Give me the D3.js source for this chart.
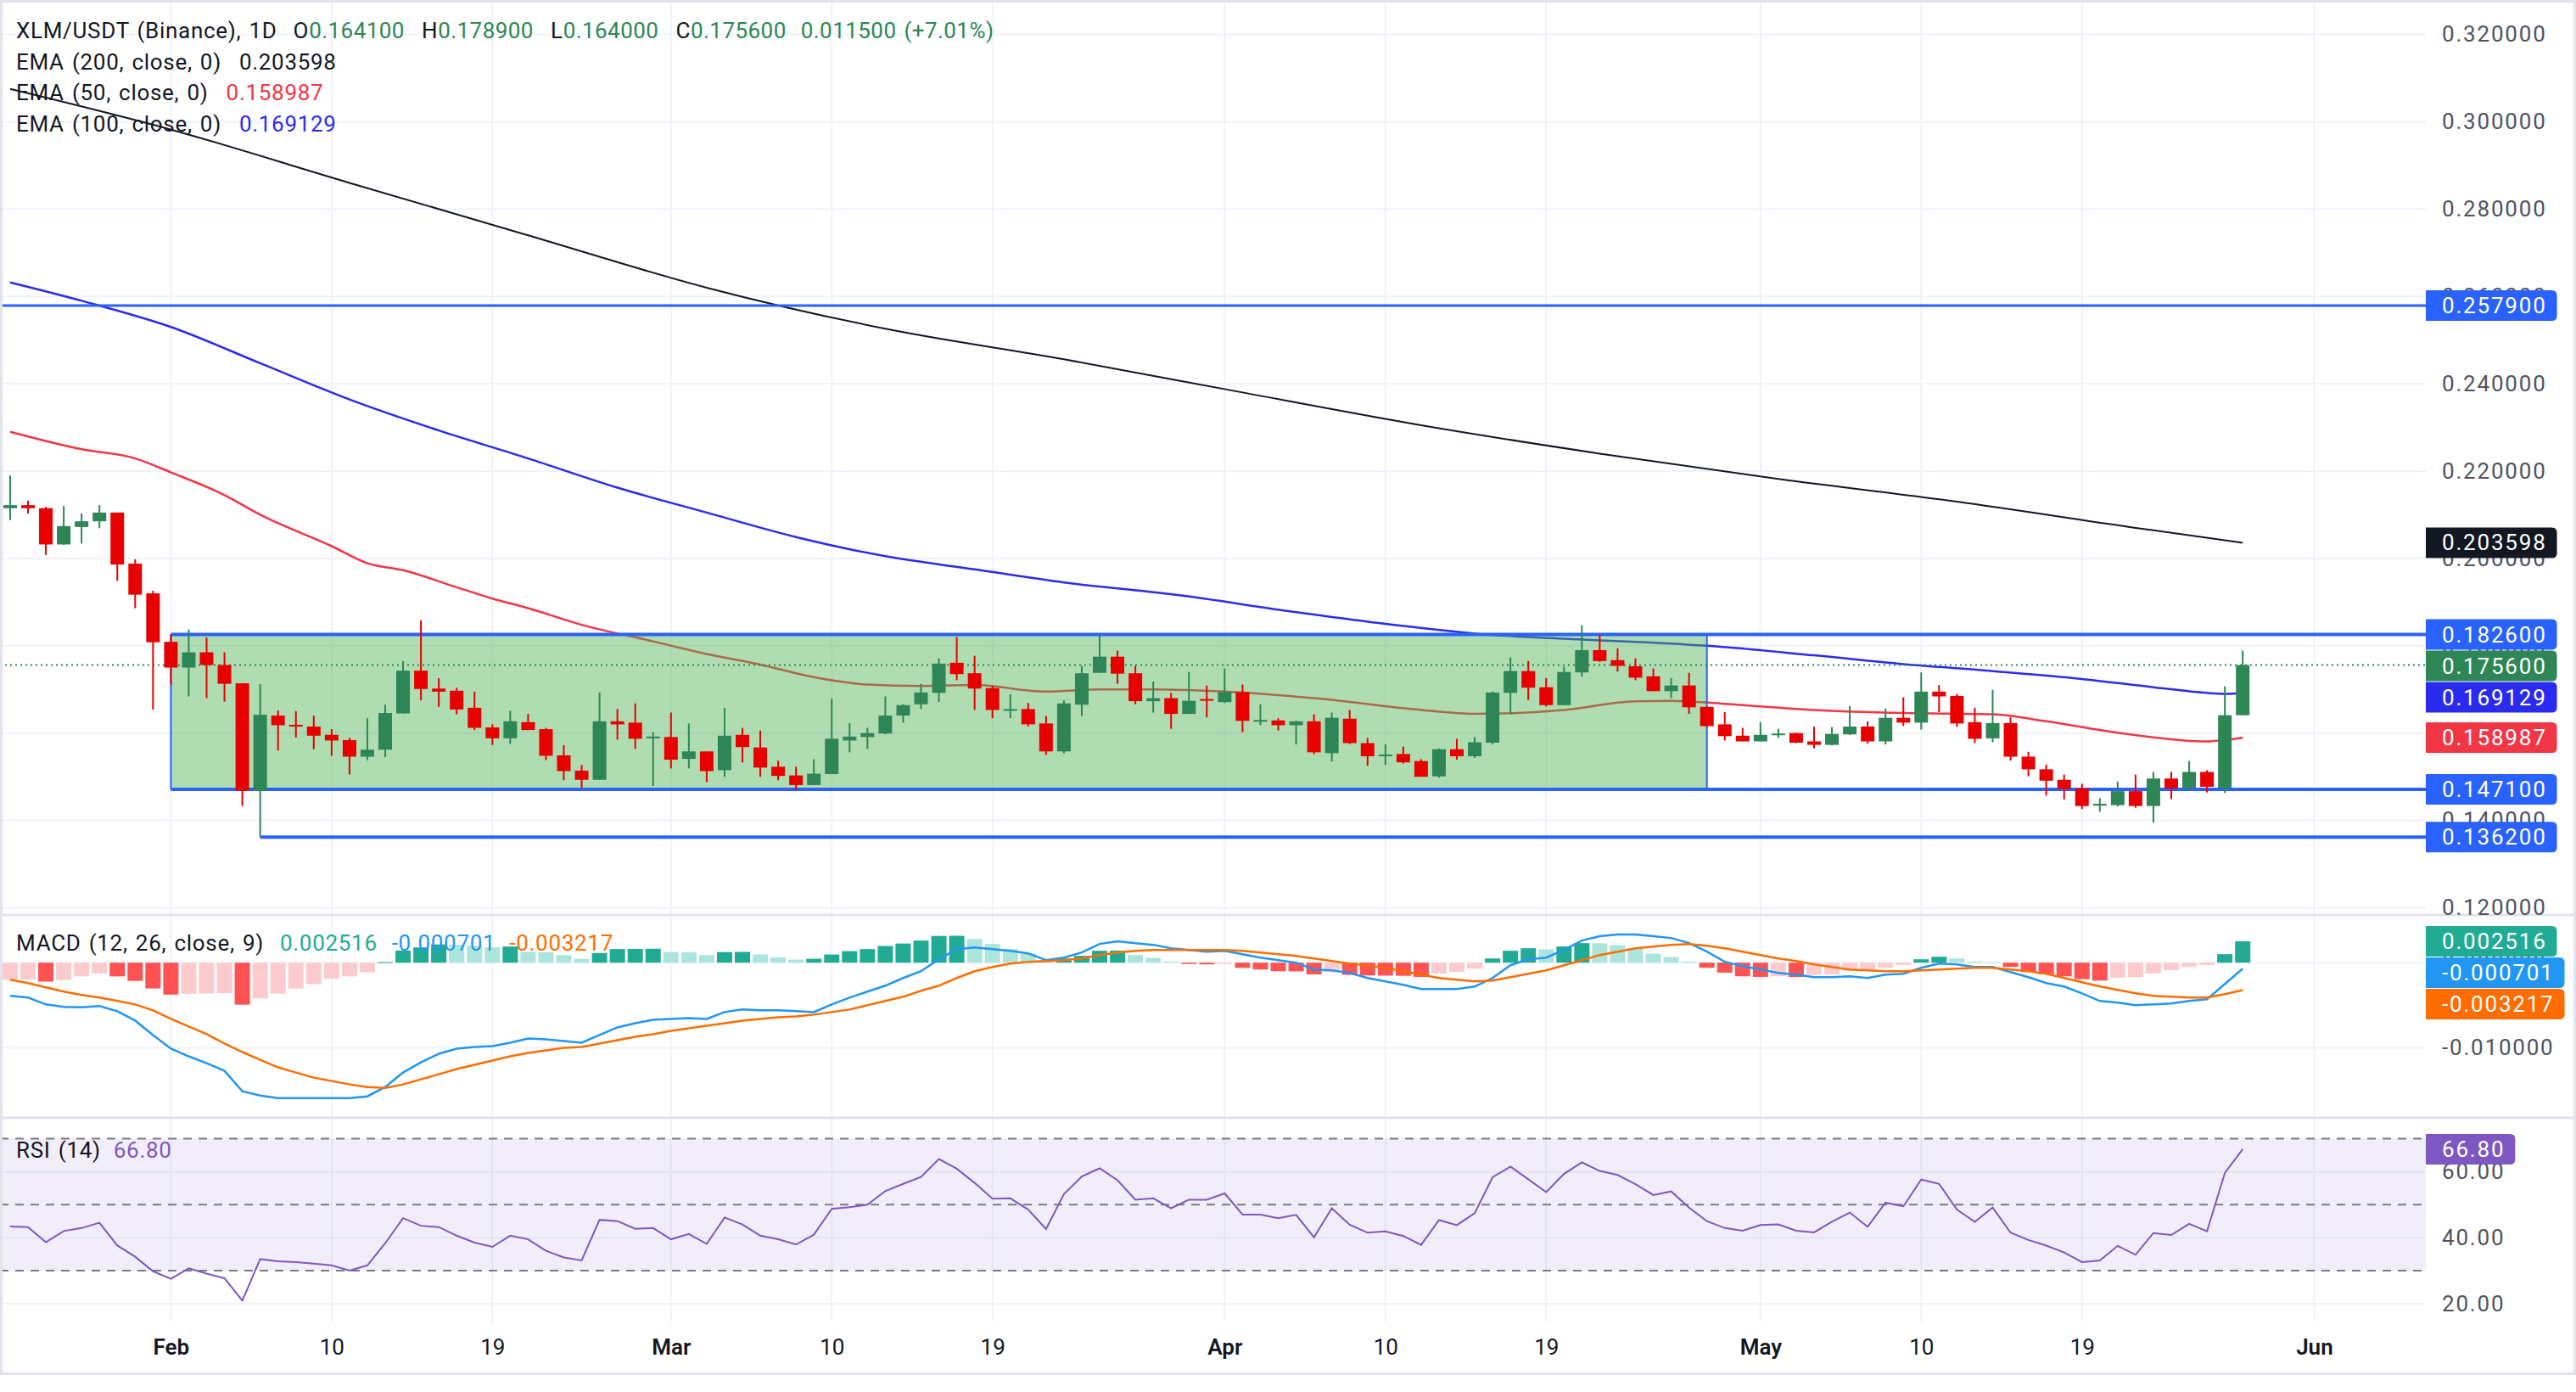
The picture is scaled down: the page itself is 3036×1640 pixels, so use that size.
<!DOCTYPE html>
<html>
<head>
<meta charset="utf-8">
<script src="https://cdn.jsdelivr.net/npm/d3@7/dist/d3.min.js"></script>
<style>
html,body{margin:0;padding:0;background:#ffffff;overflow:hidden;}
svg{display:block;font-family:Roboto,"Liberation Sans",Arial,sans-serif;}
</style>
</head>
<body>
<svg id="chart" width="3036" height="1640"></svg>
<script>
// ================= DATA =================
const symbolTitle = "XLM/USDT (Binance), 1D";
const firstCandleOffset = -9; // first candle is 9 days before Feb 1
const opens = [0.2115,0.2122,0.2115,0.2032,0.2072,0.2085,0.2105,0.1988,0.1920,
0.1809,0.1750,0.1785,0.1756,0.1714,0.1468,0.1640,0.1619,0.1615,0.1596,
0.1584,0.1546,0.1562,0.1645,0.1743,0.1702,0.1697,0.1658,0.1613,0.1588,
0.1625,0.1609,0.1549,0.1514,0.1493,0.1627,0.1624,0.1589,0.1591,0.1541,
0.1558,0.1515,0.1596,0.1567,0.1523,0.1503,0.1481,0.1506,0.1583,0.1591,
0.1599,0.1640,0.1666,0.1692,0.1761,0.1737,0.1703,0.1654,0.1655,0.1622,
0.1558,0.1665,0.1738,0.1775,0.1737,0.1673,0.1680,0.1644,0.1678,0.1671,
0.1694,0.1628,0.1629,0.1618,0.1627,0.1554,0.1633,0.1577,0.1547,0.1552,
0.1536,0.1501,0.1563,0.1547,0.1578,0.1692,0.1742,0.1705,0.1664,0.1739,
0.1790,0.1767,0.1753,0.1730,0.1696,0.1709,0.1660,0.1620,0.1594,0.1581,
0.1597,0.1600,0.1581,0.1573,0.1597,0.1615,0.1581,0.1635,0.1624,0.1695,
0.1685,0.1625,0.1588,0.1623,0.1546,0.1517,0.1493,0.1473,0.1435,0.1435,
0.1467,0.1433,0.1496,0.1474,0.1511,0.1474,0.1641];
const highs = [0.2190,0.2132,0.2118,0.2120,0.2103,0.2122,0.2105,0.1998,0.1926,
0.1826,0.1837,0.1819,0.1785,0.1714,0.1712,0.1652,0.1650,0.1640,0.1609,
0.1589,0.1634,0.1665,0.1765,0.1858,0.1726,0.1704,0.1695,0.1620,0.1651,
0.1644,0.1612,0.1572,0.1527,0.1693,0.1655,0.1668,0.1602,0.1647,0.1622,
0.1558,0.1658,0.1612,0.1606,0.1537,0.1523,0.1540,0.1679,0.1623,0.1612,
0.1684,0.1666,0.1713,0.1771,0.1820,0.1777,0.1708,0.1689,0.1669,0.1639,
0.1675,0.1754,0.1823,0.1789,0.1754,0.1718,0.1692,0.1740,0.1709,0.1748,
0.1711,0.1666,0.1634,0.1628,0.1643,0.1647,0.1653,0.1589,0.1574,0.1569,
0.1540,0.1565,0.1587,0.1591,0.1695,0.1773,0.1765,0.1726,0.1752,0.1847,
0.1825,0.1794,0.1771,0.1748,0.1726,0.1738,0.1661,0.1648,0.1612,0.1625,
0.1610,0.1601,0.1615,0.1614,0.1662,0.1627,0.1656,0.1682,0.1739,0.1710,
0.1690,0.1658,0.1699,0.1636,0.1557,0.1528,0.1505,0.1484,0.1451,0.1489,
0.1505,0.1511,0.1511,0.1536,0.1515,0.1707,0.1789];
const lows = [0.2088,0.2103,0.2008,0.2031,0.2034,0.2069,0.1949,0.1886,0.1654,
0.1711,0.1684,0.1680,0.1672,0.1433,0.1362,0.1560,0.1590,0.1563,0.1548,
0.1505,0.1538,0.1545,0.1645,0.1675,0.1660,0.1643,0.1607,0.1573,0.1575,
0.1607,0.1538,0.1492,0.1474,0.1493,0.1585,0.1564,0.1479,0.1519,0.1519,
0.1488,0.1500,0.1533,0.1500,0.1492,0.1470,0.1481,0.1506,0.1556,0.1564,
0.1597,0.1624,0.1655,0.1671,0.1721,0.1653,0.1634,0.1634,0.1615,0.1550,
0.1554,0.1639,0.1738,0.1713,0.1666,0.1647,0.1610,0.1644,0.1636,0.1669,
0.1602,0.1618,0.1606,0.1574,0.1552,0.1535,0.1575,0.1525,0.1527,0.1530,
0.1500,0.1498,0.1539,0.1543,0.1574,0.1644,0.1676,0.1661,0.1664,0.1729,
0.1763,0.1741,0.1721,0.1696,0.1680,0.1644,0.1614,0.1583,0.1581,0.1581,
0.1589,0.1577,0.1565,0.1572,0.1596,0.1576,0.1574,0.1616,0.1608,0.1648,
0.1614,0.1577,0.1579,0.1537,0.1501,0.1457,0.1448,0.1426,0.1420,0.1432,
0.1429,0.1395,0.1449,0.1467,0.1464,0.1463,0.1640];
const closes = [0.2122,0.2115,0.2032,0.2074,0.2085,0.2105,0.1986,0.1917,0.1808,
0.1750,0.1785,0.1756,0.1713,0.1468,0.1642,0.1618,0.1615,0.1594,0.1583,
0.1546,0.1562,0.1646,0.1743,0.1701,0.1695,0.1654,0.1612,0.1588,0.1627,
0.1607,0.1548,0.1513,0.1493,0.1627,0.1620,0.1587,0.1592,0.1539,0.1558,
0.1513,0.1594,0.1568,0.1521,0.1502,0.1481,0.1507,0.1587,0.1592,0.1600,
0.1640,0.1664,0.1693,0.1759,0.1735,0.1702,0.1653,0.1655,0.1620,0.1558,
0.1668,0.1737,0.1775,0.1736,0.1673,0.1680,0.1644,0.1674,0.1674,0.1694,
0.1628,0.1630,0.1618,0.1627,0.1556,0.1635,0.1577,0.1547,0.1551,0.1533,
0.1500,0.1563,0.1547,0.1579,0.1693,0.1742,0.1704,0.1664,0.1740,0.1790,
0.1765,0.1754,0.1727,0.1696,0.1709,0.1659,0.1616,0.1593,0.1581,0.1596,
0.1599,0.1578,0.1573,0.1598,0.1615,0.1581,0.1635,0.1624,0.1695,0.1684,
0.1622,0.1587,0.1623,0.1546,0.1517,0.1491,0.1472,0.1433,0.1438,0.1467,
0.1433,0.1496,0.1473,0.1511,0.1477,0.1641,0.1756];

// EMA readings (day offset from Feb 1, value)
const ema200Days = [-9,0,10,20,30,40,50,60,70,80,90,100,110,116];
const ema200Vals = [0.3075,0.2982,0.2860,0.2740,0.2620,0.2526,0.2456,0.2380,0.2305,0.2240,0.2182,0.2130,0.2070,0.203598];
const ema100Days = [-9,-5,0,5,10,15,20,25,30,35,40,45,50,56,63,68,73,78,82,86,92,97,102,107,111,114,115,116];
const ema100Vals = [0.2632,0.2590,0.2530,0.2447,0.2364,0.2293,0.2229,0.2162,0.2105,0.2049,0.2005,0.1975,0.1945,0.1918,0.1877,0.1850,0.1828,0.1816,0.1809,0.1800,0.1778,0.1758,0.1742,0.1724,0.1705,0.1692,0.1690,0.169129];
const ema50Days = [-9,-5,-2,0,3,5,9,11,13,16,18,20,23,27,30,33,36,39,42,45,49,52,55,59,64,70,73,78,82,84,87,92,97,102,105,109,114,115,116];
const ema50Vals = [0.2290,0.2250,0.2229,0.2197,0.2145,0.2100,0.2028,0.1989,0.1973,0.1934,0.1908,0.1886,0.1848,0.1810,0.1781,0.1757,0.1728,0.1711,0.1708,0.1710,0.1695,0.1700,0.1700,0.1695,0.1680,0.1653,0.1644,0.1653,0.1673,0.1674,0.1667,0.1653,0.1646,0.1643,0.1627,0.1601,0.1581,0.1584,0.158987];

// MACD (12,26,9), one value per candle
const macdVals = [-0.0039,-0.0041,-0.0049,-0.0052,-0.00525,-0.0051,-0.0057,-0.0068,-0.0085,
-0.0101,-0.0110,-0.0118,-0.0127,-0.0151,-0.0156,-0.0159,-0.0159,-0.0159,-0.0159,
-0.0159,-0.0157,-0.0146,-0.0129,-0.0117,-0.0107,-0.0101,-0.0099,-0.0098,-0.0094,
-0.0089,-0.0090,-0.0092,-0.0094,-0.0085,-0.0076,-0.0071,-0.0067,-0.0066,-0.0065,
-0.0066,-0.0058,-0.0055,-0.0056,-0.0056,-0.0057,-0.0058,-0.0049,-0.0041,-0.0034,
-0.0027,-0.0018,-0.0010,0.0004,0.0016,0.0018,0.0016,0.0014,0.0011,0.0003,
0.0006,0.0012,0.0022,0.0025,0.0023,0.0021,0.0017,0.0015,0.0013,0.0014,
0.0010,0.0006,0.0003,0.0000,-0.0008,-0.0009,-0.0012,-0.0018,-0.0022,-0.0026,
-0.0031,-0.0031,-0.0031,-0.0028,-0.0018,-0.0003,0.0004,0.0006,0.0015,0.0026,
0.0031,0.0033,0.0033,0.0031,0.0029,0.0023,0.0013,0.0001,-0.0004,-0.0008,
-0.0012,-0.0014,-0.0017,-0.0017,-0.0016,-0.0018,-0.0014,-0.0013,-0.0006,-0.0001,
-0.0002,-0.0005,-0.0005,-0.0011,-0.0017,-0.0024,-0.0028,-0.0036,-0.0045,-0.0047,
-0.0050,-0.0049,-0.0048,-0.0045,-0.0043,-0.0025,-0.000701];
const signalVals = [-0.0020,-0.0024,-0.0029,-0.0034,-0.0038,-0.0041,-0.0045,-0.0049,-0.0056,
-0.0066,-0.0075,-0.0084,-0.0095,-0.0105,-0.0114,-0.0123,-0.0129,-0.0135,-0.0139,
-0.0143,-0.0146,-0.0147,-0.0143,-0.0137,-0.0131,-0.0125,-0.0120,-0.0115,-0.0110,
-0.0106,-0.0103,-0.0100,-0.0099,-0.0095,-0.0091,-0.0087,-0.0084,-0.0080,-0.0077,
-0.0074,-0.0071,-0.0068,-0.0066,-0.0064,-0.0063,-0.0061,-0.0058,-0.0055,-0.0050,
-0.0045,-0.0040,-0.0033,-0.0027,-0.0018,-0.0010,-0.0005,-0.0001,0.0001,0.0002,
0.0003,0.0005,0.0009,0.0012,0.0014,0.0015,0.0015,0.0015,0.0015,0.0015,
0.0014,0.0012,0.0010,0.0008,0.0005,0.0002,-0.0001,-0.0003,-0.0006,-0.0010,
-0.0014,-0.0018,-0.0020,-0.0022,-0.0021,-0.0017,-0.0013,-0.0009,-0.0003,0.0003,
0.0009,0.0013,0.0017,0.0019,0.0021,0.0022,0.0020,0.0017,0.0013,0.0009,
0.0005,0.0002,-0.0002,-0.0005,-0.0008,-0.0009,-0.0010,-0.0010,-0.0009,-0.0008,
-0.0007,-0.0006,-0.0006,-0.0008,-0.0010,-0.0013,-0.0018,-0.0023,-0.0028,-0.0032,
-0.0036,-0.0039,-0.0040,-0.0041,-0.0041,-0.0037,-0.003217];
const histVals = [-0.0020,-0.00195,-0.00222,-0.00203,-0.00161,-0.00125,-0.00161,-0.00214,-0.00303,
-0.00375,-0.00366,-0.00362,-0.00358,-0.00493,-0.00421,-0.00364,-0.00303,-0.0025,-0.00189,
-0.00161,-0.00114,0.00007,0.00143,0.00179,0.00214,0.00212,0.00200,0.00180,0.00190,
0.00128,0.00124,0.00089,0.00046,0.00114,0.00160,0.00162,0.00164,0.00125,0.00122,
0.00089,0.00125,0.00127,0.00096,0.00064,0.00036,0.00046,0.00096,0.00136,0.00160,
0.00196,0.00225,0.00260,0.00314,0.00316,0.00278,0.00220,0.00160,0.00107,0.00030,
0.00050,0.00080,0.00140,0.00142,0.00090,0.00057,0.00013,-0.00015,-0.00020,-0.00015,
-0.00060,-0.00080,-0.00100,-0.00102,-0.00137,-0.00110,-0.00143,-0.00150,-0.00152,-0.00154,
-0.00167,-0.00127,-0.00110,-0.00070,0.00050,0.00140,0.00170,0.00157,0.00190,0.00230,
0.00228,0.00206,0.00167,0.00107,0.00067,0.00013,-0.00060,-0.00117,-0.00160,-0.00167,
-0.00160,-0.00168,-0.00143,-0.00137,-0.00093,-0.00077,-0.00060,-0.00027,0.00040,0.00070,
0.00050,0.00013,0.00010,-0.00050,-0.00110,-0.00137,-0.00160,-0.00193,-0.00210,-0.00177,
-0.00170,-0.00127,-0.00087,-0.00050,-0.00027,0.00100,0.002516];
const rsiVals = [43.4,43.2,38.6,42.0,42.9,44.5,37.6,34.2,29.8,
27.5,30.7,29.1,27.7,20.9,33.5,32.8,32.6,32.1,31.6,
30.0,31.6,38.3,45.9,43.6,43.2,40.6,38.5,37.2,40.6,
39.5,36.0,34.0,33.1,45.4,45.0,42.7,42.9,39.5,41.1,
38.1,46.1,44.0,40.6,39.5,37.9,40.9,48.7,49.2,50.0,
54.1,56.3,58.4,63.8,60.9,56.6,51.8,51.9,48.5,42.6,
53.2,58.5,61.0,57.4,51.5,51.9,48.9,51.5,51.5,53.4,
47.0,47.0,45.9,46.9,40.1,48.9,43.9,41.5,41.9,40.5,
37.8,45.3,43.8,47.4,58.3,61.5,57.7,53.8,59.3,62.8,
60.2,59.0,56.2,52.9,54.0,49.1,45.0,42.9,42.1,43.8,
44.0,42.1,41.6,44.8,47.6,43.3,50.6,49.5,57.6,56.3,
48.5,44.8,49.1,41.5,39.3,37.6,35.5,32.6,33.1,37.5,
34.8,41.4,40.8,44.2,41.9,59.6,66.8];

// drawn horizontal levels and range box
const levelValues = [0.2579, 0.1826, 0.1471, 0.1362];
const levelStartDays = [null, 0, 0, 5];
const rangeBoxDays = [0, 86];
const rangeBoxPrices = [0.1826, 0.1471];

// ticks
const priceTicks = [0.12,0.14,0.16,0.18,0.20,0.22,0.24,0.26,0.28,0.30,0.32];
const macdTicks = [-0.01, 0];
const rsiTicks = [20, 40, 60];
const rsiLevels = [70, 50, 30];
const timeTickDates = ["2023-02-01","2023-02-10","2023-02-19","2023-03-01","2023-03-10","2023-03-19","2023-04-01","2023-04-10","2023-04-19","2023-05-01","2023-05-10","2023-05-19","2023-06-01"];
const timeTickLabels = ["Feb","10","19","Mar","10","19","Apr","10","19","May","10","19","Jun"];
const monthLabels = ["Feb","Mar","Apr","May","Jun"];

// ================= CHART =================
const W = 3036, H = 1640, plotR = 2859;
const paneP = [0, 1078], paneM = [1078, 1317], paneR = [1317, 1557];
const DAY = 86400000;
const feb1 = Date.UTC(2023, 1, 1);
const dateAt = d => new Date(feb1 + d * DAY);
const parse = d3.utcParse("%Y-%m-%d");

const C = {
  up: "#2e8656", down: "#e60000", text: "#131722", axisText: "#50535e",
  grid: "#f0f3fa", sep: "#e0e3eb", level: "#2962ff",
  ema200: "#131722", ema50: "#f23645", ema100: "#2b2bef",
  macd: "#2196f3", signal: "#ff6d00", rsi: "#7e57c2",
  histUp: "#22ab94", histUpFade: "#ace5dc", histDn: "#ff5252", histDnFade: "#fccbcd"
};
const loc = d3.formatLocale({decimal: ".", thousands: ",", grouping: [3], currency: ["$", ""], minus: "-"});
const f6 = loc.format(".6f"), f2 = loc.format(".2f"), fp = loc.format("+.2f");

const x = d3.scaleUtc().domain([dateAt(0), dateAt(120)]).range([201.4, 2727.4]);
const yP = d3.scaleLinear().domain([0.12, 0.32]).range([1069.5, 40.5]);
const yM = d3.scaleLinear().domain([-0.01, 0]).range([1234.5, 1134.2]);
const yR = d3.scaleLinear().domain([30, 70]).range([1497, 1341.5]);

const candles = opens.map((o, i) => ({date: dateAt(firstCandleOffset + i), o, h: highs[i], l: lows[i], c: closes[i]}));

const svg = d3.select("#chart");
svg.append("rect").attr("width", W).attr("height", H).attr("fill", "#ffffff");
const defs = svg.append("defs");
function clip(id, x0, y0, x1, y1) {
  defs.append("clipPath").attr("id", id).append("rect")
    .attr("x", x0).attr("y", y0).attr("width", x1 - x0).attr("height", y1 - y0);
}
clip("cP", 0, paneP[0], plotR, paneP[1]);
clip("cM", 0, paneM[0], plotR, paneM[1]);
clip("cR", 0, paneR[0], plotR, paneR[1]);
clip("aP", plotR, paneP[0], W, paneP[1]);
clip("aM", plotR, paneM[0], W, paneM[1]);
clip("aR", plotR, paneR[0], W, paneR[1]);

// ---- grid ----
const grid = svg.append("g");
grid.selectAll("line.v").data(timeTickDates.map(parse)).join("line")
  .attr("x1", d => x(d)).attr("x2", d => x(d)).attr("y1", 0).attr("y2", paneR[1])
  .attr("stroke", C.grid).attr("stroke-width", 2);
const hGrid = [...priceTicks.map(v => yP(v)), ...macdTicks.map(v => yM(v)), ...rsiTicks.map(v => yR(v))];
grid.selectAll("line.h").data(hGrid).join("line")
  .attr("x1", 0).attr("x2", plotR).attr("y1", d => d).attr("y2", d => d)
  .attr("stroke", C.grid).attr("stroke-width", 2);

// ---- price pane ----
const gP = svg.append("g").attr("clip-path", "url(#cP)");
const emaLine = d3.line().curve(d3.curveMonotoneX);
function drawEma(days, vals, color, w) {
  gP.append("path").attr("d", emaLine(days.map((d, i) => [x(dateAt(d)), yP(vals[i])])))
    .attr("fill", "none").attr("stroke", color).attr("stroke-width", w);
}
drawEma(ema200Days, ema200Vals, C.ema200, 2);
drawEma(ema100Days, ema100Vals, C.ema100, 2.5);
drawEma(ema50Days, ema50Vals, C.ema50, 2.5);

// range box
const bx0 = x(dateAt(rangeBoxDays[0])), bx1 = x(dateAt(rangeBoxDays[1]));
gP.append("rect").attr("x", bx0).attr("y", yP(rangeBoxPrices[0]))
  .attr("width", bx1 - bx0).attr("height", yP(rangeBoxPrices[1]) - yP(rangeBoxPrices[0]))
  .attr("fill", "rgba(76,175,80,0.44)");
[bx0, bx1].forEach(bx => gP.append("line").attr("x1", bx).attr("x2", bx)
  .attr("y1", yP(rangeBoxPrices[0])).attr("y2", yP(rangeBoxPrices[1]))
  .attr("stroke", C.level).attr("stroke-width", 2));

// levels
gP.selectAll("line.lvl").data(levelValues).join("line")
  .attr("x1", (v, i) => levelStartDays[i] === null ? 0 : x(dateAt(levelStartDays[i])))
  .attr("x2", plotR).attr("y1", v => yP(v)).attr("y2", v => yP(v))
  .attr("stroke", C.level).attr("stroke-width", (v, i) => i === 0 ? 3 : 4);

// last price dotted line
const last = candles[candles.length - 1];
gP.append("line").attr("x1", 0).attr("x2", plotR).attr("y1", yP(last.c)).attr("y2", yP(last.c))
  .attr("stroke", C.up).attr("stroke-width", 2).attr("stroke-dasharray", "2,4");

// candles
const cg = gP.selectAll("g.candle").data(candles).join("g");
cg.append("line").attr("x1", d => x(d.date)).attr("x2", d => x(d.date))
  .attr("y1", d => yP(d.h)).attr("y2", d => yP(d.l))
  .attr("stroke", d => d.c >= d.o ? C.up : C.down).attr("stroke-width", 2);
cg.append("rect").attr("x", d => x(d.date) - 8).attr("width", 16)
  .attr("y", d => yP(Math.max(d.o, d.c)))
  .attr("height", d => Math.max(2, Math.abs(yP(d.o) - yP(d.c))))
  .attr("fill", d => d.c >= d.o ? C.up : C.down);

// ---- MACD pane ----
const gM = svg.append("g").attr("clip-path", "url(#cM)");
gM.selectAll("rect").data(histVals).join("rect")
  .attr("x", (v, i) => x(candles[i].date) - 9).attr("width", 18)
  .attr("y", v => Math.min(yM(v), yM(0)))
  .attr("height", v => Math.max(1, Math.abs(yM(v) - yM(0))))
  .attr("fill", (v, i) => {
    const p = i > 0 ? histVals[i - 1] : null;
    if (v >= 0) return (p !== null && v >= p) ? C.histUp : C.histUpFade;
    return (p !== null && v <= p) ? C.histDn : C.histDnFade;
  });
const seriesLine = d3.line();
gM.append("path").attr("d", seriesLine(macdVals.map((v, i) => [x(candles[i].date), yM(v)])))
  .attr("fill", "none").attr("stroke", C.macd).attr("stroke-width", 2.5);
gM.append("path").attr("d", seriesLine(signalVals.map((v, i) => [x(candles[i].date), yM(v)])))
  .attr("fill", "none").attr("stroke", C.signal).attr("stroke-width", 2.5);

// ---- RSI pane ----
const gR = svg.append("g").attr("clip-path", "url(#cR)");
gR.append("rect").attr("x", 0).attr("width", plotR).attr("y", yR(70)).attr("height", yR(30) - yR(70))
  .attr("fill", C.rsi).attr("fill-opacity", 0.1);
gR.selectAll("line.rl").data(rsiLevels).join("line")
  .attr("x1", 0).attr("x2", plotR).attr("y1", v => yR(v)).attr("y2", v => yR(v))
  .attr("stroke", "#787b86").attr("stroke-width", 2).attr("stroke-dasharray", "10,8");
gR.append("path").attr("d", seriesLine(rsiVals.map((v, i) => [x(candles[i].date), yR(v)])))
  .attr("fill", "none").attr("stroke", C.rsi).attr("stroke-width", 2);

// ---- separators ----
[paneP[1], paneM[1]].forEach(y => svg.append("line").attr("x1", 0).attr("x2", W)
  .attr("y1", y).attr("y2", y).attr("stroke", C.sep).attr("stroke-width", 3));

// ---- axes ----
function styleAxis(g) {
  g.select(".domain").remove();
  g.attr("font-family", "Roboto, 'Liberation Sans', sans-serif").attr("font-size", 26);
  g.selectAll("text").attr("fill", C.axisText).attr("letter-spacing", 1.8);
}
svg.append("g").attr("clip-path", "url(#aP)").append("g").attr("transform", `translate(${plotR},0)`)
  .call(d3.axisRight(yP).tickValues(priceTicks).tickFormat(f6).tickSize(0).tickPadding(19)).call(styleAxis);
svg.append("g").attr("clip-path", "url(#aM)").append("g").attr("transform", `translate(${plotR},0)`)
  .call(d3.axisRight(yM).tickValues(macdTicks).tickFormat(f6).tickSize(0).tickPadding(19)).call(styleAxis);
svg.append("g").attr("clip-path", "url(#aR)").append("g").attr("transform", `translate(${plotR},0)`)
  .call(d3.axisRight(yR).tickValues(rsiTicks).tickFormat(f2).tickSize(0).tickPadding(19)).call(styleAxis);

const xAx = svg.append("g").attr("transform", "translate(0,1578)")
  .call(d3.axisBottom(x).tickValues(timeTickDates.map(parse)).tickFormat((d, i) => timeTickLabels[i]).tickSize(0).tickPadding(0));
xAx.select(".domain").remove();
xAx.attr("font-family", "Roboto, 'Liberation Sans', sans-serif").attr("font-size", 26);
xAx.selectAll("text").attr("fill", C.text)
  .attr("font-weight", (d, i) => monthLabels.includes(timeTickLabels[i]) ? 600 : 400);

// ---- value boxes on the right axis ----
function valueBoxes(items, scale, fmt, clipId) {
  const g = svg.append("g").attr("clip-path", `url(#${clipId})`);
  items.forEach(it => it.ny = scale(it.v));
  items.sort((a, b) => a.ny - b.ny);
  let prev = -1e9;
  items.forEach(it => { it.y = Math.max(it.ny, prev + 37); prev = it.y; });
  items.forEach(it => {
    const bg = g.append("g").attr("transform", `translate(${plotR},${it.y})`);
    const path = bg.append("path");
    const t = bg.append("text").attr("x", 19).attr("dy", "0.35em").attr("fill", "#ffffff")
      .attr("font-size", 26).attr("letter-spacing", 1.8).text(fmt(it.v));
    const w = 19 + t.node().getComputedTextLength() + 12, r = 6, h = 18;
    path.attr("d", `M0,${-h}H${w - r}Q${w},${-h} ${w},${-h + r}V${h - r}Q${w},${h} ${w - r},${h}H0Z`)
      .attr("fill", it.fill);
  });
}
valueBoxes([
  {v: levelValues[0], fill: C.level},
  {v: ema200Vals[ema200Vals.length - 1], fill: C.ema200},
  {v: levelValues[1], fill: C.level},
  {v: last.c, fill: C.up},
  {v: ema100Vals[ema100Vals.length - 1], fill: C.ema100},
  {v: ema50Vals[ema50Vals.length - 1], fill: C.ema50},
  {v: levelValues[2], fill: C.level},
  {v: levelValues[3], fill: C.level}
], yP, f6, "aP");
valueBoxes([
  {v: histVals[histVals.length - 1], fill: C.histUp},
  {v: macdVals[macdVals.length - 1], fill: C.macd},
  {v: signalVals[signalVals.length - 1], fill: C.signal}
], yM, f6, "aM");
valueBoxes([{v: rsiVals[rsiVals.length - 1], fill: C.rsi}], yR, f2, "aR");

// ---- legends ----
function legend(y, segs) {
  let cx = 19;
  segs.forEach(s => {
    const t = svg.append("text").attr("x", cx).attr("y", y).attr("fill", s.c)
      .attr("font-size", 26).attr("letter-spacing", s.num ? 0.45 : 0.7).attr("word-spacing", 2).text(s.t);
    cx += t.node().getComputedTextLength() + (s.g || 0);
  });
}
const prevClose = closes[closes.length - 2];
const chg = last.c - prevClose;
legend(45, [
  {t: symbolTitle, c: C.text, g: 19},
  {t: "O", c: C.text}, {t: f6(last.o), c: C.up, g: 20, num: true},
  {t: "H", c: C.text}, {t: f6(last.h), c: C.up, g: 20, num: true},
  {t: "L", c: C.text}, {t: f6(last.l), c: C.up, g: 20, num: true},
  {t: "C", c: C.text}, {t: f6(last.c), c: C.up, g: 17, num: true},
  {t: `${f6(chg)} (${fp(chg / prevClose * 100)}%)`, c: C.up, num: true}
]);
legend(82, [{t: "EMA (200, close, 0)", c: C.text, g: 21}, {t: f6(ema200Vals[ema200Vals.length - 1]), c: C.ema200}]);
legend(118, [{t: "EMA (50, close, 0)", c: C.text, g: 21}, {t: f6(ema50Vals[ema50Vals.length - 1]), c: C.ema50}]);
legend(155, [{t: "EMA (100, close, 0)", c: C.text, g: 21}, {t: f6(ema100Vals[ema100Vals.length - 1]), c: C.ema100}]);
legend(1120, [
  {t: "MACD (12, 26, close, 9)", c: C.text, g: 19},
  {t: f6(histVals[histVals.length - 1]), c: C.histUp, g: 17},
  {t: f6(macdVals[macdVals.length - 1]), c: C.macd, g: 16},
  {t: f6(signalVals[signalVals.length - 1]), c: C.signal}
]);
legend(1364, [{t: "RSI (14)", c: C.text, g: 15}, {t: f2(rsiVals[rsiVals.length - 1]), c: C.rsi}]);

// ---- frame ----
svg.append("rect").attr("x", 1.5).attr("y", 1.5).attr("width", W - 3).attr("height", 1617)
  .attr("fill", "none").attr("stroke", C.sep).attr("stroke-width", 3);
</script>
</body>
</html>
